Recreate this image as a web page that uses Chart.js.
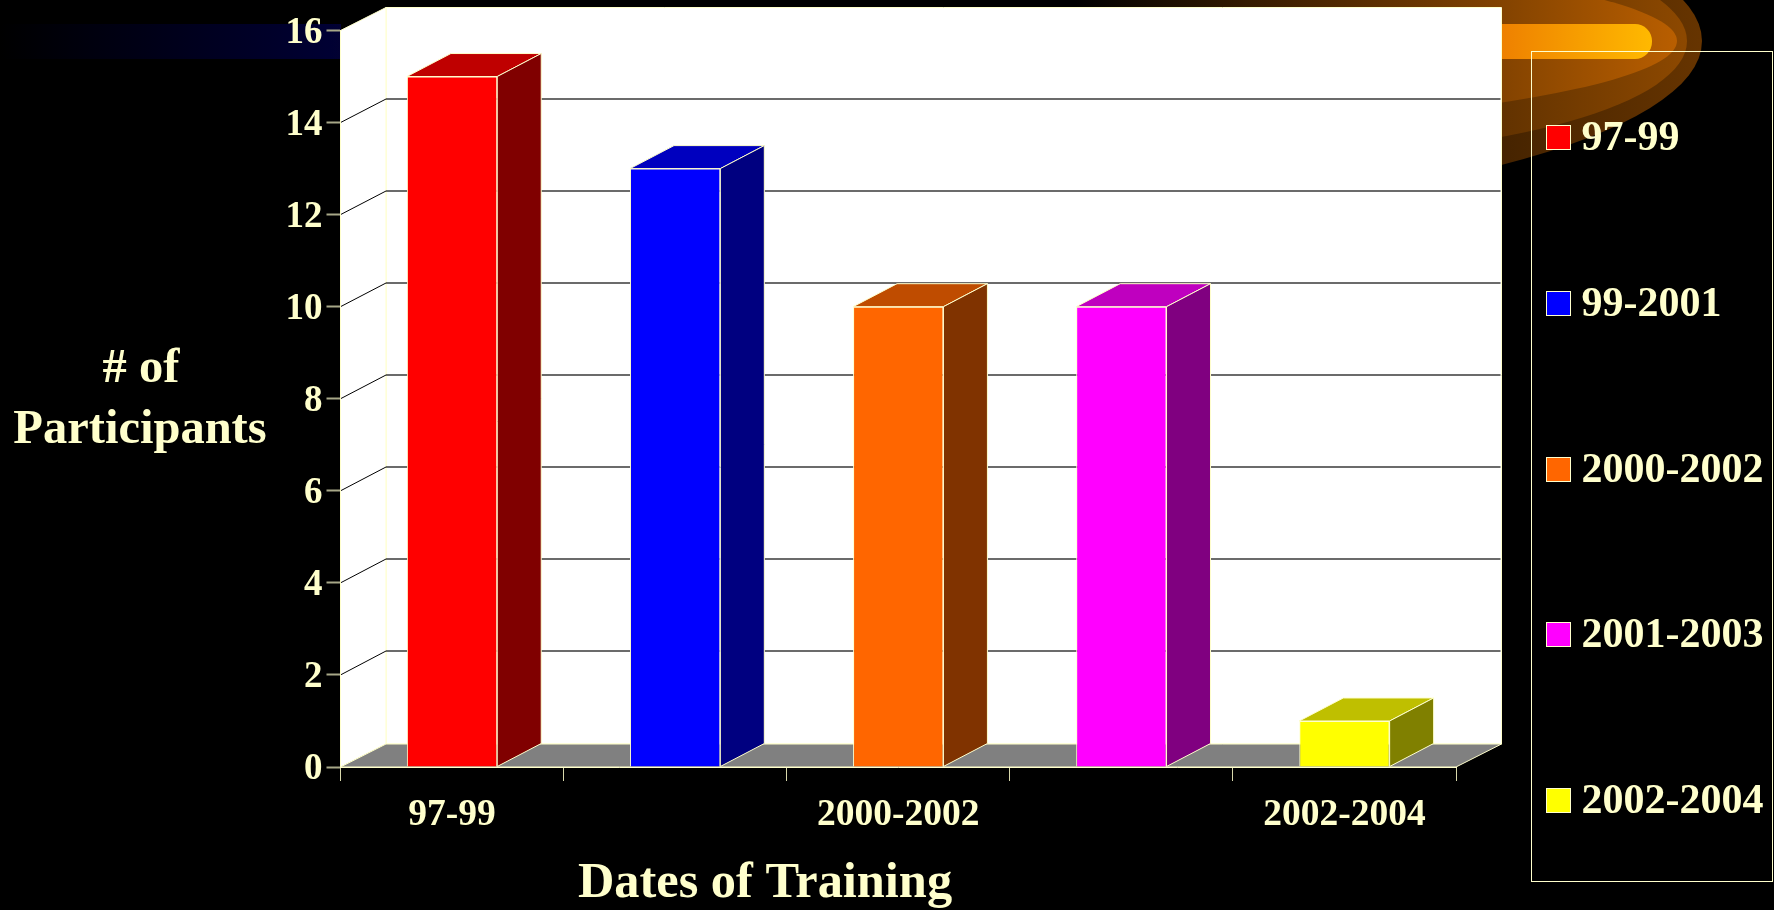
<!DOCTYPE html>
<html>
<head>
<meta charset="utf-8">
<title>Dates of Training</title>
<style>
  html, body { margin: 0; padding: 0; background: #000; overflow: hidden; }
  canvas { display: block; }
</style>
<script src="https://cdn.jsdelivr.net/npm/chart.js@4"></script>
</head>
<body>
<canvas id="chart" width="1774" height="910"></canvas>
<script>
// ── DATA ──
const categories = ['97-99', '99-2001', '2000-2002', '2001-2003', '2002-2004'];
const participants = [15, 13, 10, 10, 1];
const yTicks = [0, 2, 4, 6, 8, 10, 12, 14, 16];
const yTitleLines = ['# of', 'Participants'];
const xTitle = 'Dates of Training';

// ── COLORS ──
const frontColors = ['#ff0000', '#0000ff', '#ff6600', '#ff00ff', '#ffff00'];
const sideColors  = ['#800000', '#000080', '#803300', '#800080', '#808000'];
const topColors   = ['#bf0000', '#0000bf', '#bf4c00', '#bf00bf', '#bfbf00'];
const INK = '#ffffcc';
const SERIF = "'Liberation Serif', 'Times New Roman', serif";

// ── 3D OFFSETS ──
const WALL_DX = 45.5, WALL_DY = 23;
const BAR_DX = 44, BAR_DY = 23;

function poly(ctx, pts, fill, stroke) {
  ctx.beginPath();
  pts.forEach((p, i) => i ? ctx.lineTo(p[0], p[1]) : ctx.moveTo(p[0], p[1]));
  ctx.closePath();
  if (fill) { ctx.fillStyle = fill; ctx.fill(); }
  if (stroke) { ctx.strokeStyle = stroke; ctx.lineWidth = 1; ctx.stroke(); }
}

// ── SLIDE BACKDROP (comet behind the chart) ──
function drawBackdrop(ctx) {
  ctx.save();
  ctx.fillStyle = '#000';
  ctx.fillRect(0, 0, 1774, 910);

  const glow = (cx, rx, ry, end) => {
    const g = ctx.createLinearGradient(1075, 0, 1700, 0);
    g.addColorStop(0, '#000');
    g.addColorStop(1, end);
    ctx.fillStyle = g;
    ctx.beginPath();
    ctx.ellipse(cx, 41, rx, ry, 0, 0, Math.PI * 2);
    ctx.fill();
  };
  ctx.beginPath();
  ctx.rect(1075, 0, 699, 910);
  ctx.clip();
  glow(1020, 682, 175, '#663400');
  glow(1284, 403, 114, '#904a00');
  glow(835, 842, 101, '#c06200');
  ctx.restore();

  ctx.save();
  const band = ctx.createLinearGradient(0, 0, 1652, 0);
  band.addColorStop(0, '#000000');
  band.addColorStop(0.2, '#000033');
  band.addColorStop(0.908, '#ee8000');
  band.addColorStop(1, '#ffb900');
  ctx.fillStyle = band;
  ctx.fillRect(0, 24, 341, 35);
  ctx.beginPath();
  ctx.roundRect(1480, 24, 172, 35, 17);
  ctx.fill();
  ctx.restore();
}

// ── WALLS, FLOOR, GRID ──
function drawRoom(chart) {
  const { ctx, scales: { x, y } } = chart;
  const l = x.left, r = x.right;
  const top = y.getPixelForValue(16), base = y.getPixelForValue(0);

  ctx.save();
  poly(ctx, [[l + WALL_DX, top - WALL_DY], [r + WALL_DX, top - WALL_DY], [r + WALL_DX, base - WALL_DY], [l + WALL_DX, base - WALL_DY]], '#fff', INK);
  poly(ctx, [[l, top], [l + WALL_DX, top - WALL_DY], [l + WALL_DX, base - WALL_DY], [l, base]], '#fff', INK);
  poly(ctx, [[l, base], [l + WALL_DX, base - WALL_DY], [r + WALL_DX, base - WALL_DY], [r, base]], '#808080', INK);

  yTicks.forEach(v => {
    if (v === 0 || v === 16) return;
    const py = y.getPixelForValue(v);
    const backY = Math.round(py - WALL_DY - 0.5);
    ctx.strokeStyle = '#000';
    ctx.lineWidth = 1;
    ctx.beginPath();
    ctx.moveTo(l, py);
    ctx.lineTo(l + WALL_DX, backY);
    ctx.stroke();
    ctx.strokeStyle = '#3a3a3a';
    ctx.lineWidth = 1.5;
    ctx.beginPath();
    ctx.moveTo(l + WALL_DX, backY);
    ctx.lineTo(r + WALL_DX - 1, backY);
    ctx.stroke();
  });
  ctx.restore();
}

// ── LEGEND + AXIS TITLES ──
function drawLegend(ctx) {
  ctx.save();
  ctx.strokeStyle = INK;
  ctx.lineWidth = 1;
  ctx.strokeRect(1531.5, 51.5, 241, 830);
  ctx.textBaseline = 'alphabetic';
  ctx.textAlign = 'left';
  ctx.font = 'bold 42px ' + SERIF;
  categories.forEach((c, i) => {
    const cy = 137.4 + i * 165.6;
    ctx.fillStyle = frontColors[i];
    ctx.fillRect(1546.5, Math.round(cy - 12) + 0.5, 24, 24);
    ctx.strokeRect(1546.5, Math.round(cy - 12) + 0.5, 24, 24);
    ctx.fillStyle = INK;
    ctx.fillText(c, 1581.5, cy + 13);
  });
  ctx.restore();
}

function drawTitles(ctx) {
  ctx.save();
  ctx.fillStyle = INK;
  ctx.textAlign = 'center';
  ctx.textBaseline = 'alphabetic';
  ctx.font = 'bold 48.5px ' + SERIF;
  ctx.fillText(yTitleLines[0], 141, 381.5);
  ctx.fillText(yTitleLines[1], 140, 443);
  ctx.font = 'bold 50.4px ' + SERIF;
  ctx.fillText(xTitle, 765, 896.5);
  ctx.restore();
}

const roomPlugin = {
  id: 'room',
  beforeDraw(chart) {
    drawBackdrop(chart.ctx);
    drawRoom(chart);
  },
  beforeDatasetsDraw(chart) {
    const ctx = chart.ctx;
    ctx.save();
    chart.getDatasetMeta(0).data.forEach((el, i) => {
      const a = el.x - el.width / 2, b = el.x + el.width / 2;
      poly(ctx, [[a, el.y], [a + BAR_DX, el.y - BAR_DY], [b + BAR_DX, el.y - BAR_DY], [b, el.y]], topColors[i], INK);
      poly(ctx, [[b, el.y], [b + BAR_DX, el.y - BAR_DY], [b + BAR_DX, el.base - BAR_DY], [b, el.base]], sideColors[i], INK);
    });
    ctx.restore();
  },
  afterDraw(chart) {
    drawLegend(chart.ctx);
    drawTitles(chart.ctx);
  }
};

new Chart(document.getElementById('chart'), {
  type: 'bar',
  data: {
    labels: categories,
    datasets: [{
      data: participants,
      backgroundColor: frontColors,
      borderColor: INK,
      borderWidth: 1,
      barPercentage: 0.405,
      categoryPercentage: 1
    }]
  },
  options: {
    responsive: false,
    animation: false,
    layout: { padding: { left: 0, top: 30.5, right: 318, bottom: 0 } },
    plugins: { legend: { display: false }, tooltip: { enabled: false }, title: { display: false } },
    scales: {
      x: {
        afterFit: s => { s.height = 143; },
        grid: { offset: true, drawOnChartArea: false, drawTicks: true, tickLength: 14, color: '#d8d8ac' },
        border: { display: true, color: INK },
        ticks: {
          autoSkip: false,
          maxRotation: 0,
          minRotation: 0,
          color: INK,
          padding: 12,
          font: { family: SERIF, size: 37.5, weight: 'bold' },
          callback: (v, i) => (i % 2 === 0 ? categories[i] : '')
        }
      },
      y: {
        min: 0,
        max: 16,
        afterFit: s => { s.width = 340.5; },
        afterBuildTicks: s => { s.ticks = yTicks.map(v => ({ value: v })); },
        grid: { drawOnChartArea: false, drawTicks: true, tickLength: 14, tickWidth: 2, tickColor: '#a8a888', color: INK },
        border: { display: true, color: INK },
        ticks: {
          color: INK,
          padding: 4,
          labelOffset: 2.5,
          font: { family: SERIF, size: 37, weight: 'bold' }
        }
      }
    }
  },
  plugins: [roomPlugin]
});
</script>
</body>
</html>
